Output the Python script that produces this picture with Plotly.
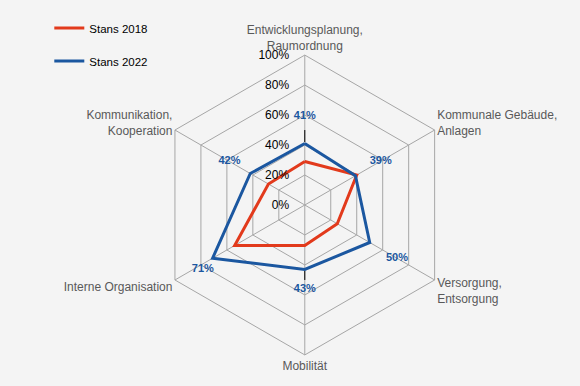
import plotly.graph_objects as go

categories = ["Entwicklungsplanung,<br>Raumordnung", "Kommunale Gebäude,<br>Anlagen",
              "Versorgung,<br>Entsorgung", "Mobilität", "Interne Organisation",
              "Kommunikation,<br>Kooperation"]
stans_2018 = [0.29, 0.40, 0.25, 0.27, 0.54, 0.28]
stans_2022 = [0.41, 0.39, 0.50, 0.43, 0.71, 0.42]
label_radius = [0.59, 0.585, 0.71, 0.56, 0.785, 0.58]
label_position = ["middle center", "middle center", "middle center", "middle center",
                  "bottom center", "middle center"]
radial_ticks = [0, 0.2, 0.4, 0.6, 0.8, 1.0]

RED = "#e23a1c"
BLUE = "#1b57a0"
GRID = "#a6a6a6"
BG = "#f4f4f4"
FONT = "Liberation Sans"

def closed(v):
    return list(v) + [v[0]]

fig = go.Figure()
fig.add_trace(go.Scatterpolar(r=closed(stans_2018), theta=closed(categories), mode="lines",
                              name="Stans 2018", line=dict(color=RED, width=3),
                              legendgroup="a"))
fig.add_trace(go.Scatterpolar(r=closed(stans_2022), theta=closed(categories), mode="lines",
                              name="Stans 2022", line=dict(color=BLUE, width=3),
                              legendgroup="b"))
# leader lines for the top and bottom data labels
for i, length in [(0, 0.09), (3, 0.07)]:
    fig.add_trace(go.Scatterpolar(r=[stans_2022[i] + 0.01, stans_2022[i] + length],
                                  theta=[categories[i], categories[i]], mode="lines",
                                  line=dict(color="#000000", width=1),
                                  showlegend=False, hoverinfo="skip"))
fig.add_trace(go.Scatterpolar(r=label_radius, theta=categories, mode="text",
                              text=[f"{round(v*100)}%" for v in stans_2022],
                              textposition=label_position,
                              textfont=dict(color=BLUE, size=11, family=FONT, weight="bold"),
                              showlegend=False, hoverinfo="skip"))

fig.update_layout(
    width=580, height=386,
    paper_bgcolor=BG, plot_bgcolor=BG,
    margin=dict(l=0, r=0, t=0, b=0),
    font=dict(family=FONT, size=12, color="#595959"),
    legend=dict(x=0.085, y=0.965, xanchor="left", yanchor="top", tracegroupgap=14,
                font=dict(size=11.5, color="#000000"), bgcolor="rgba(0,0,0,0)"),
    polar=dict(
        domain=dict(x=[0.267, 0.784], y=[0.0803, 0.8575]),
        bgcolor=BG,
        gridshape="linear",
        radialaxis=dict(range=[0, 1], tickvals=radial_ticks, tickformat=".0%",
                        angle=90, tickangle=90, side="counterclockwise",
                        showline=False, gridcolor=GRID, gridwidth=1,
                        ticks="outside", ticklen=11, tickcolor="rgba(0,0,0,0)",
                        tickfont=dict(color="#000000", size=12)),
        angularaxis=dict(rotation=90, direction="clockwise", gridcolor=GRID,
                         categoryorder="array", categoryarray=categories,
                         linecolor=GRID, showline=True, ticks="",
                         tickfont=dict(color="#595959", size=12)),
    ),
)
fig.write_html("out.html", config={"displayModeBar": False},
               post_script="document.body.style.margin='0';")
